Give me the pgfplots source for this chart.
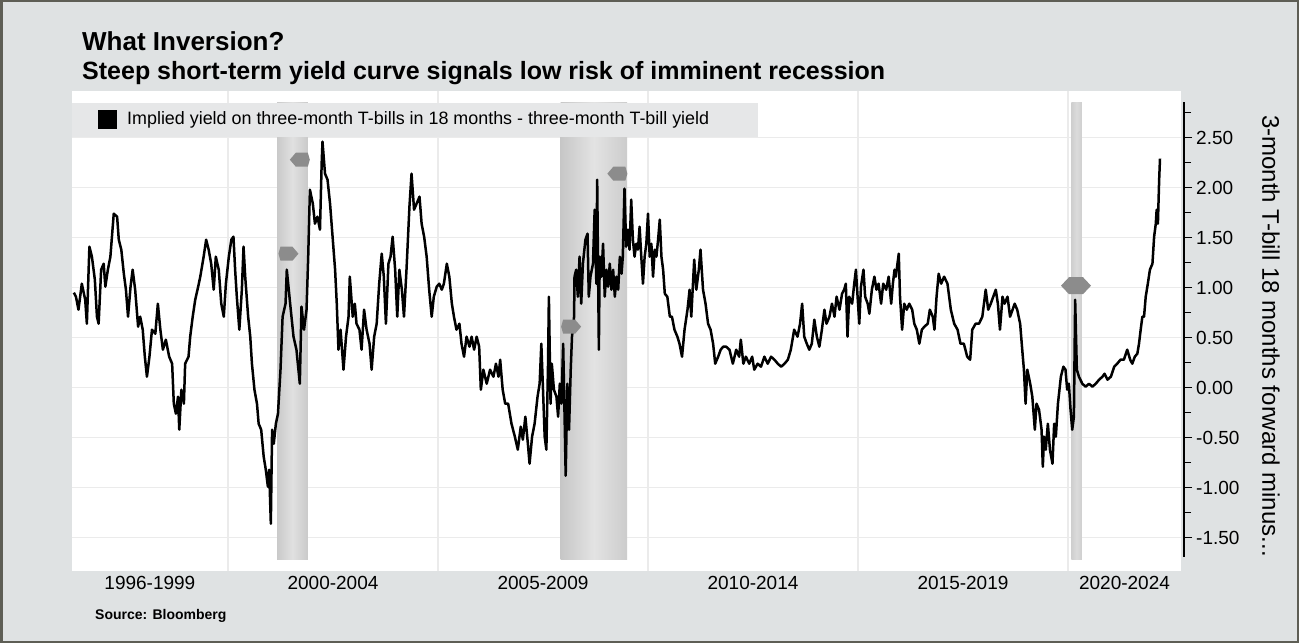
\documentclass[border=0pt]{standalone}
\usepackage{pgfplots}
\pgfplotsset{compat=1.18}
\usepackage{pgfplotstable}
\usepackage{fontspec}
\setmainfont{Liberation Sans}
\definecolor{bgc}{HTML}{DFE2E3}
\definecolor{legc}{HTML}{E6E7E8}
\definecolor{brd}{HTML}{5E5E55}
\definecolor{gridc}{HTML}{EBEBEB}
\definecolor{markc}{HTML}{8C8C8C}

\pgfdeclareplotmark{tagL}{%
 \pgfpathmoveto{\pgfqpoint{-10pt}{0pt}}%
 \pgfpathlineto{\pgfqpoint{-4pt}{7pt}}%
 \pgfpathlineto{\pgfqpoint{8pt}{7pt}}%
 \pgfpathlineto{\pgfqpoint{10pt}{0pt}}%
 \pgfpathlineto{\pgfqpoint{8pt}{-7pt}}%
 \pgfpathlineto{\pgfqpoint{-4pt}{-7pt}}%
 \pgfpathclose\pgfusepathqfill}
\pgfdeclareplotmark{tagR}{%
 \pgfpathmoveto{\pgfqpoint{10pt}{0pt}}%
 \pgfpathlineto{\pgfqpoint{4pt}{7pt}}%
 \pgfpathlineto{\pgfqpoint{-8pt}{7pt}}%
 \pgfpathlineto{\pgfqpoint{-10pt}{0pt}}%
 \pgfpathlineto{\pgfqpoint{-8pt}{-7pt}}%
 \pgfpathlineto{\pgfqpoint{4pt}{-7pt}}%
 \pgfpathclose\pgfusepathqfill}
\pgfdeclareplotmark{hexM}{%
 \pgfpathmoveto{\pgfqpoint{-15pt}{0pt}}%
 \pgfpathlineto{\pgfqpoint{-7pt}{8.5pt}}%
 \pgfpathlineto{\pgfqpoint{7pt}{8.5pt}}%
 \pgfpathlineto{\pgfqpoint{15pt}{0pt}}%
 \pgfpathlineto{\pgfqpoint{7pt}{-8.5pt}}%
 \pgfpathlineto{\pgfqpoint{-7pt}{-8.5pt}}%
 \pgfpathclose\pgfusepathqfill}

\pgfplotstableread{
year val
1996.33 0.95
1996.38 0.91
1996.44 0.78
1996.52 1.04
1996.60 0.88
1996.64 0.64
1996.70 1.41
1996.76 1.31
1996.83 1.08
1996.88 0.71
1996.92 0.64
1996.98 1.18
1997.04 1.24
1997.08 1.01
1997.14 1.18
1997.20 1.31
1997.28 1.74
1997.36 1.71
1997.40 1.48
1997.46 1.38
1997.52 1.14
1997.57 0.98
1997.62 0.71
1997.68 1.01
1997.73 1.18
1997.79 0.98
1997.86 0.61
1997.91 0.71
1997.97 0.58
1998.02 0.31
1998.07 0.11
1998.13 0.31
1998.19 0.58
1998.27 0.54
1998.33 0.84
1998.39 0.58
1998.45 0.38
1998.52 0.48
1998.60 0.31
1998.67 0.24
1998.71 -0.16
1998.76 -0.26
1998.81 -0.09
1998.84 -0.42
1998.89 -0.02
1998.95 -0.16
1998.98 0.24
1999.06 0.31
1999.10 0.51
1999.16 0.71
1999.22 0.88
1999.29 1.01
1999.34 1.11
1999.42 1.31
1999.48 1.48
1999.54 1.38
1999.60 1.24
1999.66 0.98
1999.71 1.31
1999.78 1.18
1999.84 0.84
1999.90 0.71
1999.95 1.04
2000.02 1.31
2000.08 1.48
2000.13 1.51
2000.17 1.18
2000.21 0.91
2000.27 0.58
2000.33 0.98
2000.37 1.41
2000.41 1.11
2000.48 0.71
2000.53 0.51
2000.57 0.24
2000.63 -0.02
2000.69 -0.16
2000.73 -0.36
2000.79 -0.42
2000.85 -0.69
2000.90 -0.82
2000.95 -0.99
2000.98 -0.82
2001.02 -1.36
2001.05 -0.42
2001.09 -0.56
2001.14 -0.36
2001.19 -0.26
2001.25 0.18
2001.30 0.71
2001.37 0.84
2001.40 1.18
2001.48 0.84
2001.56 0.51
2001.63 0.38
2001.71 0.04
2001.75 0.81
2001.81 0.58
2001.87 0.78
2001.91 1.31
2001.95 1.98
2002.02 1.84
2002.07 1.64
2002.13 1.71
2002.19 1.58
2002.23 2.24
2002.25 2.46
2002.31 2.14
2002.37 2.08
2002.43 1.84
2002.49 1.51
2002.55 1.18
2002.59 0.84
2002.63 0.38
2002.68 0.58
2002.75 0.18
2002.81 0.51
2002.87 0.71
2002.90 1.11
2002.97 0.71
2003.02 0.84
2003.06 0.64
2003.13 0.58
2003.18 0.38
2003.24 0.78
2003.30 0.58
2003.37 0.44
2003.42 0.18
2003.48 0.51
2003.54 0.64
2003.60 1.04
2003.66 1.34
2003.71 1.11
2003.76 0.64
2003.82 1.24
2003.87 1.31
2003.92 1.51
2003.98 1.18
2004.03 0.71
2004.08 1.18
2004.14 0.98
2004.19 0.71
2004.25 1.18
2004.32 1.81
2004.37 2.14
2004.43 1.78
2004.49 1.84
2004.56 1.91
2004.61 1.64
2004.67 1.51
2004.73 1.31
2004.79 0.98
2004.85 0.71
2004.90 0.91
2004.97 1.01
2005.03 1.04
2005.09 0.98
2005.14 1.04
2005.21 1.24
2005.27 1.11
2005.33 0.84
2005.38 0.71
2005.44 0.58
2005.51 0.64
2005.56 0.44
2005.62 0.31
2005.68 0.51
2005.75 0.41
2005.80 0.51
2005.86 0.38
2005.92 0.51
2005.98 0.41
2006.02 -0.02
2006.08 0.18
2006.16 0.04
2006.24 0.18
2006.32 0.11
2006.38 0.24
2006.44 0.11
2006.48 0.28
2006.54 -0.02
2006.60 -0.16
2006.67 -0.16
2006.75 -0.36
2006.83 -0.49
2006.90 -0.62
2006.97 -0.39
2007.02 -0.52
2007.08 -0.29
2007.14 -0.56
2007.18 -0.76
2007.24 -0.49
2007.30 -0.36
2007.37 -0.09
2007.42 0.04
2007.46 0.44
2007.50 -0.02
2007.54 -0.49
2007.58 -0.62
2007.62 0.24
2007.64 0.91
2007.68 -0.16
2007.71 0.24
2007.76 -0.02
2007.82 -0.09
2007.86 -0.29
2007.90 0.04
2007.94 -0.16
2007.98 0.44
2008.02 -0.42
2008.04 -0.88
2008.08 0.04
2008.12 -0.42
2008.16 0.18
2008.19 0.51
2008.24 0.71
2008.25 1.11
2008.29 1.18
2008.33 0.91
2008.37 1.31
2008.41 0.84
2008.45 1.24
2008.51 1.48
2008.56 1.54
2008.59 0.91
2008.63 1.11
2008.69 1.24
2008.73 1.78
2008.77 1.04
2008.79 2.08
2008.83 0.38
2008.85 1.31
2008.89 1.11
2008.93 1.44
2008.97 0.91
2009.01 1.18
2009.05 1.01
2009.09 1.24
2009.13 0.98
2009.17 1.18
2009.21 0.91
2009.25 1.11
2009.29 0.98
2009.33 1.31
2009.37 1.14
2009.40 1.31
2009.44 1.99
2009.48 1.41
2009.52 1.58
2009.56 1.38
2009.60 1.88
2009.64 1.48
2009.68 1.31
2009.72 1.44
2009.76 1.38
2009.80 1.61
2009.84 1.31
2009.88 1.04
2009.92 1.31
2009.96 1.44
2010.00 1.74
2010.04 1.31
2010.08 1.44
2010.12 1.11
2010.16 1.38
2010.20 1.31
2010.24 1.48
2010.28 1.68
2010.32 1.31
2010.36 1.18
2010.40 0.94
2010.46 0.91
2010.52 0.71
2010.57 0.71
2010.63 0.58
2010.70 0.51
2010.75 0.44
2010.81 0.31
2010.87 0.58
2010.94 0.78
2010.99 0.98
2011.03 0.71
2011.10 1.28
2011.15 0.98
2011.21 1.18
2011.25 1.38
2011.31 0.98
2011.37 0.84
2011.43 0.64
2011.49 0.58
2011.55 0.44
2011.60 0.24
2011.67 0.31
2011.73 0.38
2011.79 0.41
2011.86 0.41
2011.94 0.38
2012.02 0.24
2012.10 0.38
2012.17 0.31
2012.21 0.48
2012.27 0.24
2012.33 0.31
2012.41 0.24
2012.48 0.31
2012.53 0.18
2012.61 0.24
2012.69 0.21
2012.77 0.31
2012.85 0.24
2012.93 0.31
2013.01 0.28
2013.09 0.24
2013.17 0.21
2013.25 0.24
2013.33 0.28
2013.40 0.38
2013.48 0.58
2013.56 0.51
2013.62 0.64
2013.67 0.84
2013.72 0.51
2013.78 0.44
2013.84 0.38
2013.90 0.44
2013.96 0.68
2014.02 0.51
2014.08 0.41
2014.14 0.58
2014.20 0.78
2014.25 0.64
2014.32 0.71
2014.38 0.84
2014.44 0.71
2014.49 0.91
2014.56 0.78
2014.62 0.94
2014.67 0.98
2014.71 1.04
2014.75 0.51
2014.79 0.91
2014.86 0.84
2014.91 1.04
2014.95 1.18
2014.99 0.91
2015.03 0.64
2015.07 1.01
2015.13 1.18
2015.17 0.91
2015.23 0.84
2015.27 0.74
2015.33 0.98
2015.39 1.11
2015.44 0.98
2015.49 1.04
2015.55 0.84
2015.60 1.04
2015.67 0.98
2015.73 1.11
2015.79 0.84
2015.83 1.04
2015.87 1.18
2015.90 1.11
2015.97 1.34
2016.00 0.91
2016.05 0.58
2016.10 0.84
2016.16 0.78
2016.22 0.84
2016.29 0.78
2016.34 0.64
2016.40 0.58
2016.46 0.44
2016.52 0.58
2016.58 0.61
2016.66 0.64
2016.71 0.78
2016.78 0.71
2016.82 0.58
2016.87 0.91
2016.92 1.14
2016.98 1.04
2017.05 1.11
2017.13 1.04
2017.21 0.78
2017.29 0.64
2017.37 0.58
2017.44 0.44
2017.52 0.44
2017.60 0.31
2017.67 0.28
2017.72 0.58
2017.80 0.64
2017.88 0.64
2017.96 0.71
2018.04 0.98
2018.10 0.78
2018.16 0.84
2018.22 0.91
2018.28 0.98
2018.33 0.84
2018.38 0.58
2018.44 0.91
2018.49 0.84
2018.56 0.91
2018.62 0.71
2018.68 0.78
2018.73 0.84
2018.79 0.78
2018.86 0.64
2018.91 0.38
2018.95 0.18
2018.99 -0.16
2019.03 0.18
2019.10 0.04
2019.15 -0.09
2019.21 -0.42
2019.25 -0.16
2019.31 -0.22
2019.37 -0.42
2019.40 -0.79
2019.43 -0.49
2019.47 -0.62
2019.52 -0.36
2019.57 -0.62
2019.63 -0.76
2019.67 -0.36
2019.71 -0.49
2019.76 -0.16
2019.83 0.11
2019.89 0.21
2019.94 0.18
2019.98 -0.02
2020.02 0.04
2020.06 -0.22
2020.10 -0.42
2020.14 -0.29
2020.17 0.88
2020.21 0.18
2020.26 0.11
2020.34 0.04
2020.42 0.01
2020.50 0.04
2020.58 0.01
2020.66 0.04
2020.74 0.08
2020.82 0.11
2020.87 0.14
2020.94 0.08
2021.02 0.11
2021.10 0.21
2021.17 0.24
2021.25 0.28
2021.33 0.28
2021.41 0.38
2021.48 0.28
2021.53 0.24
2021.59 0.31
2021.65 0.34
2021.69 0.44
2021.73 0.58
2021.77 0.71
2021.81 0.71
2021.85 0.91
2021.90 1.04
2021.95 1.18
2022.01 1.24
2022.05 1.51
2022.09 1.64
2022.11 1.78
2022.14 1.64
2022.17 2.08
2022.19 2.29
}\spread

\begin{document}
\begin{tikzpicture}[x=1pt,y=1pt]
\fill[bgc] (0,0) rectangle (1299,643);
\draw[brd, line width=2.5pt] (1.25,1.25) rectangle (1297.75,641.75);
\useasboundingbox (0,0) rectangle (1299,643);
\fill[white] (72,72) rectangle (1181,552);

\node[anchor=base west, inner sep=0pt, font=\bfseries\fontsize{26}{30}\selectfont] at (82,592) {What Inversion?};
\node[anchor=base west, inner sep=0pt, font=\bfseries\fontsize{25}{29}\selectfont] at (82,563) {Steep short-term yield curve signals low risk of imminent recession};
\node[anchor=base west, inner sep=0pt, font=\bfseries\fontsize{14}{17}\selectfont] at (95,24) {Source: Bloomberg};

\begin{axis}[
  at={(72pt,72pt)}, anchor=south west, scale only axis,
  width=1109pt, height=480pt,
  xmin=1996.286, xmax=2022.69, ymin=-1.833, ymax=2.967,
  axis line style={draw=none},
  xtick={2000,2005,2010,2015,2020}, xticklabels={},
  ytick={-1.5,-1,...,2.5}, yticklabels={},
  major tick length=0pt,
  grid=major, grid style={draw=gridc, line width=1.5pt},
  extra x ticks={1998.14,2002.5,2007.5,2012.5,2017.5,2021.345},
  extra x tick labels={1996-1999,2000-2004,2005-2009,2010-2014,2015-2019,2020-2024},
  extra x tick style={grid=none, major tick length=0pt},
  xticklabel style={font=\fontsize{19}{22}\selectfont, inner sep=0pt, anchor=north, yshift=-5pt},
]
\addplot[draw=none, left color=black!21, right color=black!21, middle color=black!12] coordinates {(2001.17,-1.72) (2001.90,-1.72) (2001.90,2.85) (2001.17,2.85)} -- cycle;
\addplot[draw=none, left color=black!22, right color=black!20, middle color=black!11] coordinates {(2007.92,-1.72) (2009.50,-1.72) (2009.50,2.85) (2007.92,2.85)} -- cycle;
\addplot[draw=none, left color=black!19, right color=black!19, middle color=black!14] coordinates {(2020.08,-1.72) (2020.33,-1.72) (2020.33,2.85) (2020.08,2.85)} -- cycle;
\addplot[black, line width=2.5pt, line join=round, mark=none] table[x=year, y=val] {\spread};
\addplot[only marks, mark=tagL, markc] coordinates {(2001.71,2.28) (2009.27,2.14)};
\addplot[only marks, mark=tagR, markc] coordinates {(2001.44,1.34) (2008.17,0.61)};
\addplot[only marks, mark=hexM, markc] coordinates {(2020.19,1.02)};
\end{axis}

\fill[legc] (72,506) rectangle (758,540);
\fill[black] (98,514) rectangle (117,533);
\node[anchor=west, inner sep=0pt, font=\fontsize{17.9}{21}\selectfont] at (127,523.5) {Implied yield on three-month T-bills in 18 months - three-month T-bill yield};

\begin{axis}[
  at={(1183pt,86pt)}, anchor=south west, scale only axis,
  width=1pt, height=455pt,
  xmin=0, xmax=1, ymin=-1.693, ymax=2.857,
  axis x line=none, axis y line*=right,
  axis line style={-, line width=2pt, black},
  ytick={-1.5,-1,...,2.5}, minor ytick={-1.25,-0.75,...,2.75},
  tick align=outside, major tick length=8pt, minor tick length=7pt,
  tick style={line width=1.5pt, black},
  yticklabel style={font=\fontsize{19}{22}\selectfont, inner sep=0pt, xshift=4pt},
  /pgf/number format/.cd, fixed, fixed zerofill, precision=2, assume math mode=true,
]
\addplot[draw=none] coordinates {(0,0)};
\end{axis}

\node[rotate=-90, inner sep=0pt, font=\fontsize{24}{28}\selectfont] at (1271,307) {3-month T-bill 18 months forward minus...};
\end{tikzpicture}
\end{document}
